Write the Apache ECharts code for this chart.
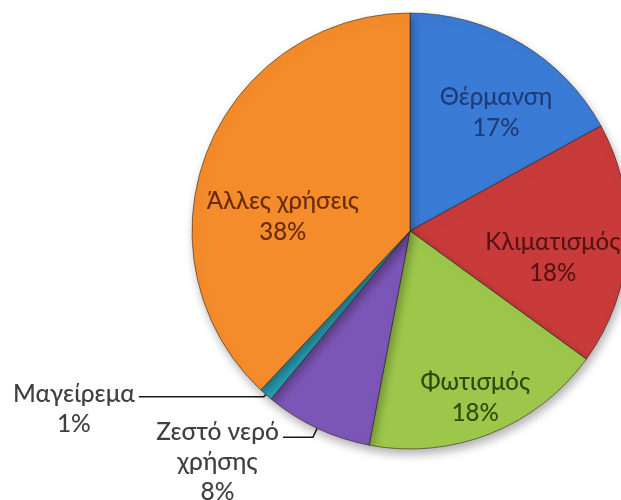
<!DOCTYPE html>
<html>
<head>
<meta charset="utf-8">
<script src="https://cdn.jsdelivr.net/npm/echarts@6/dist/echarts.min.js"></script>
<style>
  html, body { margin: 0; padding: 0; background: #ffffff; }
  #chart { width: 621px; height: 500px; }
</style>
</head>
<body>
<div id="chart"></div>
<script>
// ---- data ----
const categories = ['Θέρμανση', 'Κλιματισμός', 'Φωτισμός', 'Ζεστό νερό χρήσης', 'Μαγείρεμα', 'Άλλες χρήσεις'];
const values = [17, 18, 18, 8, 1, 38];
const labelTexts = ['Θέρμανση', 'Κλιματισμός', 'Φωτισμός', 'Ζεστό νερό\nχρήσης', 'Μαγείρεμα', 'Άλλες χρήσεις'];

// ---- styles ----
const FONT = 'Lato, "Open Sans", "Noto Sans", sans-serif';
const sliceColors = ['#3A7BD5', '#C93B3B', '#9CC74B', '#7C56B6', '#2A9FB6', '#F58C2B'];
const textColors = ['#1E3C78', '#5A1212', '#2E4A0E', '#404040', '#404040', '#6A2C08'];
const outside = [false, false, false, true, true, false];
// inside label nudges (style), outside label top padding (style)
const labelNudge = [[29, -22], [31, 20], [24, 63], [0, 0], [0, 0], [-23, 27]];
const outsidePad = [0, 0, 0, 50, 24, 0];
const lineLen = [0, 0, 0, [10, 30], [3, 125], 0];

const data = categories.map(function (name, i) {
  const item = {
    name: name,
    value: values[i],
    itemStyle: { color: sliceColors[i] }
  };
  if (outside[i]) {
    item.label = {
      position: 'outside',
      color: textColors[i],
      padding: [outsidePad[i], 0, 0, 0],
      distanceToLabelLine: 4,
      rich: { a: { align: 'center', fontFamily: FONT, fontSize: 24.5, fontWeight: 500, lineHeight: 30 } }
    };
    item.labelLine = {
      show: true,
      length: lineLen[i][0],
      length2: lineLen[i][1],
      lineStyle: { color: '#1a1a1a', width: 1.6 }
    };
  } else {
    item.label = { position: 'inside', color: textColors[i] };
    item.labelLine = { show: false };
  }
  return item;
});

const chart = echarts.init(document.getElementById('chart'), null, { renderer: 'canvas' });
chart.setOption({
  backgroundColor: '#ffffff',
  animation: false,
  series: [{
    type: 'pie',
    center: [410, 231],
    radius: [0, 218],
    startAngle: 90,
    clockwise: true,
    avoidLabelOverlap: false,
    data: data,
    itemStyle: {
      borderColor: 'rgba(40,30,20,0.55)',
      borderWidth: 1,
      shadowBlur: 10,
      shadowOffsetX: 2,
      shadowOffsetY: 5,
      shadowColor: 'rgba(0,0,0,0.30)'
    },
    label: {
      show: true,
      fontFamily: FONT,
      fontSize: 24,
      lineHeight: 31,
      formatter: function (p) {
        const lines = labelTexts[p.dataIndex].split('\n');
        lines.push(Math.round(p.percent) + '%');
        return lines.map(function (s) { return '{a|' + s + '}'; }).join('\n');
      },
      rich: {
        a: { align: 'center', fontFamily: FONT, fontSize: 24, fontWeight: 500, lineHeight: 31 }
      }
    },
    labelLayout: function (params) {
      const n = labelNudge[params.dataIndex];
      if (outside[params.dataIndex]) { return {}; }
      return { dx: n[0], dy: n[1] };
    }
  }]
});
</script>
</body>
</html>
